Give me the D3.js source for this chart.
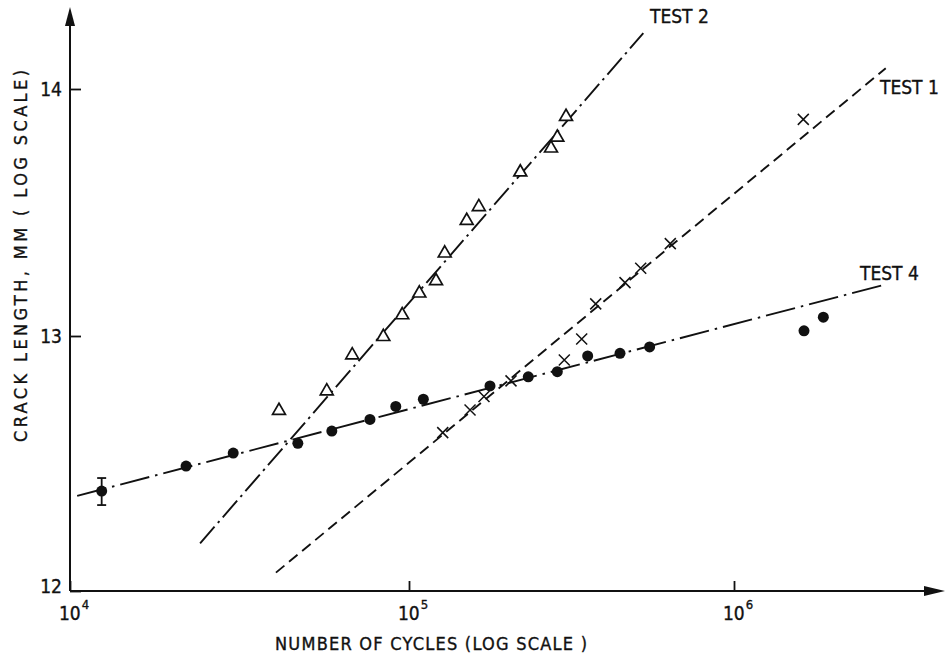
<!DOCTYPE html>
<html>
<head>
<meta charset="utf-8">
<script src="https://cdn.jsdelivr.net/npm/d3@7"></script>
<style>
  html, body { margin: 0; padding: 0; background: #fff; }
  svg { display: block; }
  text { font-family: "DejaVu Sans", "Liberation Sans", sans-serif; font-stretch: condensed; fill: #111; stroke: #111; stroke-width: 0.35px; }
</style>
</head>
<body>
<svg id="chart" width="946" height="662"></svg>
<script>
// Crack growth measurements: number of cycles vs crack length (mm)
const xTickValues = [1e4, 1e5, 1e6];
const xTickExponents = ["4", "5", "6"];
const yTickValues = [12, 13, 14];

// TEST 1 (crosses)
const test1Cycles = [127000, 154100, 170100, 206000, 300500, 339900, 375400, 462000, 516300, 636800, 1634000];
const test1Length = [12.621, 12.710, 12.763, 12.824, 12.906, 12.988, 13.130, 13.216, 13.274, 13.374, 13.877];

// TEST 2 (triangles)
const test2Cycles = [41350, 57200, 68000, 84000, 95500, 107600, 121100, 128800, 150500, 164000, 220000, 273500, 286000, 304200];
const test2Length = [12.707, 12.784, 12.925, 12.997, 13.085, 13.173, 13.223, 13.335, 13.467, 13.523, 13.663, 13.760, 13.804, 13.888];

// TEST 4 (filled dots)
const test4Cycles = [12400, 22000, 30300, 47000, 59200, 76700, 91400, 110700, 177500, 232800, 286000, 354600, 445900, 550000, 1642000, 1883000];
const test4Length = [12.392, 12.490, 12.541, 12.579, 12.627, 12.673, 12.724, 12.752, 12.804, 12.840, 12.860, 12.922, 12.932, 12.957, 13.021, 13.076];

// Scatter band on the first TEST 4 reading
const test4ErrorCycles = [12400];
const test4ErrorLow = [12.337];
const test4ErrorHigh = [12.443];

// Fitted trend lines (start and end of each)
const test1FitCycles = [40500, 2930000];
const test1FitLength = [12.072, 14.084];
const test2FitCycles = [24200, 526000];
const test2FitLength = [12.187, 14.226];
const test4FitCycles = [10500, 2930000];
const test4FitLength = [12.373, 13.209];

const svg = d3.select("#chart");
const W = 946, H = 662;
const x0 = 70, y0 = 591;

const x = d3.scaleLog().domain(xTickValues).range([x0, 409, 734]);
const y = d3.scaleLinear().domain(yTickValues).range([y0, 336, 89]);

const zip = (a, b) => a.map((v, i) => [v, b[i]]);

// Axes
const gx = svg.append("g").attr("transform", `translate(0,${y0})`)
  .call(d3.axisBottom(x).tickValues(xTickValues).tickSizeInner(-10).tickSizeOuter(0).tickFormat(""));
gx.select(".domain").remove();
gx.selectAll(".tick line").attr("stroke", "#111").attr("stroke-width", 1.8);

const gy = svg.append("g").attr("transform", `translate(${x0},0)`)
  .call(d3.axisLeft(y).tickValues(yTickValues).tickSizeInner(-11).tickSizeOuter(0).tickPadding(8).tickFormat(d3.format("d")));
gy.select(".domain").remove();
gy.selectAll(".tick line").attr("stroke", "#111").attr("stroke-width", 1.8);
gy.selectAll(".tick text").attr("font-size", 19).attr("fill", "#111")
  .attr("font-family", "'DejaVu Sans', 'Liberation Sans', sans-serif")
  .style("font-stretch", "condensed");
gy.selectAll(".tick").filter(d => d === 12).select("text").attr("dy", "0.1em");

// Axis lines with arrow heads
svg.append("line").attr("x1", x0).attr("y1", y0).attr("x2", W - 16).attr("y2", y0)
  .attr("stroke", "#111").attr("stroke-width", 2);
svg.append("path").attr("d", `M${W - 1},${y0} L${W - 22},${y0 - 5} L${W - 22},${y0 + 5} Z`).attr("fill", "#111");
svg.append("line").attr("x1", x0).attr("y1", y0).attr("x2", x0).attr("y2", 22)
  .attr("stroke", "#111").attr("stroke-width", 2);
svg.append("path").attr("d", `M${x0},7 L${x0 - 5},26 L${x0 + 5},26 Z`).attr("fill", "#111");

// Power-of-ten tick labels
const xl = svg.append("g").selectAll("text").data(xTickValues).join("text")
  .attr("x", d => x(d) - 11).attr("y", y0 + 29)
  .attr("font-size", 19);
xl.append("tspan").text("10");
xl.append("tspan").attr("dy", -11).attr("dx", 1).attr("font-size", 13).text((d, i) => xTickExponents[i]);

// Axis titles
svg.append("text").attr("x", 275).attr("y", 650).attr("font-size", 18)
  .attr("textLength", 312).attr("lengthAdjust", "spacing")
  .text("NUMBER  OF  CYCLES  (LOG  SCALE )");
svg.append("text").attr("transform", "translate(27,442) rotate(-90)").attr("font-size", 18)
  .attr("textLength", 372).attr("lengthAdjust", "spacing")
  .text("CRACK  LENGTH,  MM  ( LOG  SCALE)");

// Fitted lines
const line = d3.line().x(d => x(d[0])).y(d => y(d[1]));
const fits = [
  { cyc: test1FitCycles, len: test1FitLength, dash: "11,6" },
  { cyc: test2FitCycles, len: test2FitLength, dash: "22,5,2.5,5" },
  { cyc: test4FitCycles, len: test4FitLength, dash: "30,6,2.5,6" }
];
svg.append("g").selectAll("path").data(fits).join("path")
  .attr("d", f => line(zip(f.cyc, f.len)))
  .attr("fill", "none").attr("stroke", "#111").attr("stroke-width", 1.9)
  .attr("stroke-dasharray", f => f.dash);

// Error bar
const eb = svg.append("g").attr("stroke", "#111").attr("stroke-width", 1.8);
test4ErrorCycles.forEach((c, i) => {
  eb.append("line").attr("x1", x(c)).attr("x2", x(c)).attr("y1", y(test4ErrorLow[i])).attr("y2", y(test4ErrorHigh[i]));
  [test4ErrorLow[i], test4ErrorHigh[i]].forEach(v => {
    eb.append("line").attr("x1", x(c) - 4.5).attr("x2", x(c) + 4.5).attr("y1", y(v)).attr("y2", y(v));
  });
});

// TEST 4 dots
svg.append("g").selectAll("circle").data(zip(test4Cycles, test4Length)).join("circle")
  .attr("cx", d => x(d[0])).attr("cy", d => y(d[1])).attr("r", 5.5).attr("fill", "#111");

// TEST 2 open triangles
const tri = d3.symbol().type(d3.symbolTriangle).size(72);
svg.append("g").selectAll("path").data(zip(test2Cycles, test2Length)).join("path")
  .attr("transform", d => `translate(${x(d[0])},${y(d[1])})`)
  .attr("d", tri).attr("fill", "#fff").attr("stroke", "#111").attr("stroke-width", 1.7);

// TEST 1 crosses
svg.append("g").selectAll("path").data(zip(test1Cycles, test1Length)).join("path")
  .attr("transform", d => `translate(${x(d[0])},${y(d[1])})`)
  .attr("d", "M-5.5,-5.5L5.5,5.5M-5.5,5.5L5.5,-5.5").attr("fill", "none").attr("stroke", "#111").attr("stroke-width", 1.5);

// Series labels
const labels = [
  { t: "TEST 2", x: 650, y: 23 },
  { t: "TEST 1", x: 880, y: 94 },
  { t: "TEST 4", x: 860, y: 280 }
];
svg.append("g").selectAll("text").data(labels).join("text")
  .attr("x", d => d.x).attr("y", d => d.y).attr("font-size", 19)
  .text(d => d.t);
</script>
</body>
</html>
